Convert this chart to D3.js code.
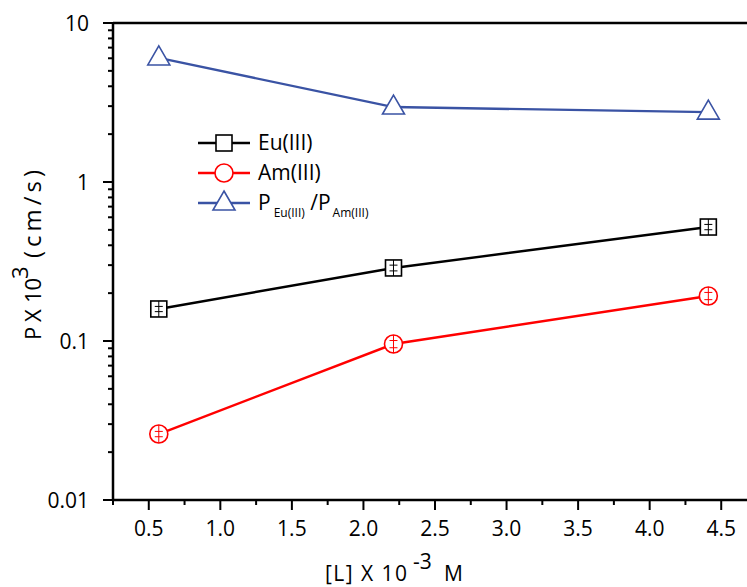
<!DOCTYPE html>
<html>
<head>
<meta charset="utf-8">
<script src="https://cdn.jsdelivr.net/npm/d3@7"></script>
<style>
  body { margin: 0; background: #fff; }
  svg { display: block; font-family: "Open Sans", "DejaVu Sans", sans-serif; }
</style>
</head>
<body>
<svg id="chart" width="747" height="587"></svg>
<script>
// data
const conc = [0.57, 2.21, 4.41];
const euVals = [0.159, 0.288, 0.521];
const euErr = [0.006, 0.012, 0.02];
const amVals = [0.026, 0.0957, 0.192];
const amErr = [0.001, 0.005, 0.01];
const ratioVals = [6.03, 2.96, 2.75];
const xTicks = [0.5, 1.0, 1.5, 2.0, 2.5, 3.0, 3.5, 4.0, 4.5];
const yTicks = [0.01, 0.1, 1, 10];
const yTickLabels = ['0.01', '0.1', '1', '10'];

const svg = d3.select('#chart');

const LEFT = 113, TOP = 23, BOTTOM = 500, RIGHT = 757;
const FONT = 21;

const x = d3.scaleLinear().domain([0.25, 4.75]).range([LEFT, RIGHT]);
const y = d3.scaleLog().domain([0.01, 10]).range([BOTTOM, TOP]);

const series = [
    {name: 'eu', vals: euVals, err: euErr, color: '#000000', shape: 'square'},
    {name: 'am', vals: amVals, err: amErr, color: '#ff0000', shape: 'circle'},
    {name: 'ratio', vals: ratioVals, err: null, color: '#3a53a4', shape: 'triangle'},
];

function drawMarker(g, shape, cx, cy, color) {
    if (shape === 'square') {
        g.append('rect')
            .attr('x', cx - 8).attr('y', cy - 8)
            .attr('width', 16).attr('height', 16)
            .attr('fill', '#fff').attr('stroke', color).attr('stroke-width', 1.6);
    } else if (shape === 'circle') {
        g.append('circle')
            .attr('cx', cx).attr('cy', cy).attr('r', 9)
            .attr('fill', '#fff').attr('stroke', color).attr('stroke-width', 1.6);
    } else {
        g.append('path')
            .attr('d', `M${cx},${cy - 12}L${cx + 11},${cy + 7}L${cx - 11},${cy + 7}Z`)
            .attr('fill', '#fff').attr('stroke', color).attr('stroke-width', 1.6);
    }
}

// frame top line
svg.append('line')
    .attr('x1', LEFT).attr('x2', RIGHT).attr('y1', TOP).attr('y2', TOP)
    .attr('stroke', '#000').attr('stroke-width', 2.5);

// x axis
const xMinor = d3.range(0.25, 4.76, 0.5);
svg.selectAll('.xminor').data(xMinor).join('line')
    .attr('x1', d => x(d)).attr('x2', d => x(d))
    .attr('y1', BOTTOM).attr('y2', BOTTOM + 5)
    .attr('stroke', '#000').attr('stroke-width', 2);
svg.selectAll('.xmajor').data(xTicks).join('line')
    .attr('x1', d => x(d)).attr('x2', d => x(d))
    .attr('y1', BOTTOM).attr('y2', BOTTOM + 10)
    .attr('stroke', '#000').attr('stroke-width', 2);
svg.selectAll('.xlab').data(xTicks).join('text')
    .text(d => d.toFixed(1))
    .attr('x', d => x(d)).attr('y', 536)
    .attr('text-anchor', 'middle')
    .attr('font-size', FONT).attr('fill', '#000');
svg.append('line')
    .attr('x1', LEFT - 1).attr('x2', RIGHT).attr('y1', BOTTOM).attr('y2', BOTTOM)
    .attr('stroke', '#000').attr('stroke-width', 2.5);

// y axis
const yMinor = [];
[0.01, 0.1, 1].forEach(dec => {
    for (let k = 2; k <= 9; k++) yMinor.push(dec * k);
});
svg.selectAll('.yminor').data(yMinor).join('line')
    .attr('x1', LEFT - 5).attr('x2', LEFT)
    .attr('y1', d => y(d)).attr('y2', d => y(d))
    .attr('stroke', '#000').attr('stroke-width', 2);
svg.selectAll('.ymajor').data(yTicks).join('line')
    .attr('x1', LEFT - 10).attr('x2', LEFT)
    .attr('y1', d => y(d)).attr('y2', d => y(d))
    .attr('stroke', '#000').attr('stroke-width', 2);
svg.selectAll('.ylab').data(yTicks).join('text')
    .text((d, i) => yTickLabels[i])
    .attr('x', 89).attr('y', d => y(d) + 8)
    .attr('text-anchor', 'end')
    .attr('font-size', FONT).attr('fill', '#000');
svg.append('line')
    .attr('x1', LEFT).attr('x2', LEFT).attr('y1', TOP - 1).attr('y2', BOTTOM + 1)
    .attr('stroke', '#000').attr('stroke-width', 2.5);

// y title, pieces spaced like the original
const yTitle = svg.append('g').attr('transform', 'translate(41,0) rotate(-90)');
[
    {t: 'P', at: 340, dy: 0, size: 22},
    {t: 'X', at: 322, dy: 0, size: 22},
    {t: '10', at: 303, dy: 0, size: 22},
    {t: '3', at: 279, dy: -13, size: 22},
    {t: '(cm/s)', at: 258, dy: 0, size: 24, len: 88},
].forEach(p => {
    const t = yTitle.append('text')
        .text(p.t)
        .attr('x', -p.at).attr('y', p.dy)
        .attr('font-size', p.size).attr('fill', '#000');
    if (p.len) t.attr('textLength', p.len).attr('lengthAdjust', 'spacing');
});

// x title
svg.append('text').text('[L] X 10')
    .attr('x', 325).attr('y', 581)
    .attr('textLength', 82).attr('lengthAdjust', 'spacing')
    .attr('font-size', FONT).attr('fill', '#000');
svg.append('text').text('-3')
    .attr('x', 413).attr('y', 569)
    .attr('font-size', FONT).attr('fill', '#000');
svg.append('text').text('M')
    .attr('x', 444).attr('y', 581)
    .attr('font-size', FONT).attr('fill', '#000');

// series
const line = d3.line().x(d => x(d[0])).y(d => y(d[1]));
series.forEach(s => {
    const pts = conc.map((c, i) => [c, s.vals[i]]);
    svg.append('path')
        .datum(pts)
        .attr('d', line)
        .attr('fill', 'none')
        .attr('stroke', s.color)
        .attr('stroke-width', 2.4);
    const g = svg.append('g');
    pts.forEach((p, i) => {
        const cx = x(p[0]), cy = y(p[1]);
        drawMarker(g, s.shape, cx, cy, s.color);
        if (s.err) {
            const half = s.shape === 'square' ? 8 : 9;
            g.append('line')
                .attr('x1', cx).attr('x2', cx).attr('y1', cy - half).attr('y2', cy + half)
                .attr('stroke', s.color).attr('stroke-width', 1);
            [y(p[1] + s.err[i]), y(p[1] - s.err[i])].forEach(yy => {
                g.append('line')
                    .attr('x1', cx - 4).attr('x2', cx + 4).attr('y1', yy).attr('y2', yy)
                    .attr('stroke', s.color).attr('stroke-width', 1);
            });
        }
    });
});

// legend
const legendRows = [
    {s: series[0], y: 143, label: 'Eu(III)'},
    {s: series[1], y: 173, label: 'Am(III)'},
    {s: series[2], y: 203, label: null},
];
legendRows.forEach(r => {
    svg.append('line')
        .attr('x1', 198).attr('x2', 250).attr('y1', r.y).attr('y2', r.y)
        .attr('stroke', r.s.color).attr('stroke-width', 2.4);
    drawMarker(svg, r.s.shape, 224, r.y, r.s.color);
    const t = svg.append('text')
        .attr('x', 258).attr('y', r.y + 7)
        .attr('font-size', FONT).attr('fill', '#000');
    if (r.label) {
        t.text(r.label);
    } else {
        t.append('tspan').text('P');
        t.append('tspan').text('Eu(III)').attr('font-size', 12).attr('dy', 7).attr('dx', 3);
        t.append('tspan').text(' /P').attr('dy', -7);
        t.append('tspan').text('Am(III)').attr('font-size', 12).attr('dy', 7).attr('dx', 2);
    }
});
</script>
</body>
</html>
